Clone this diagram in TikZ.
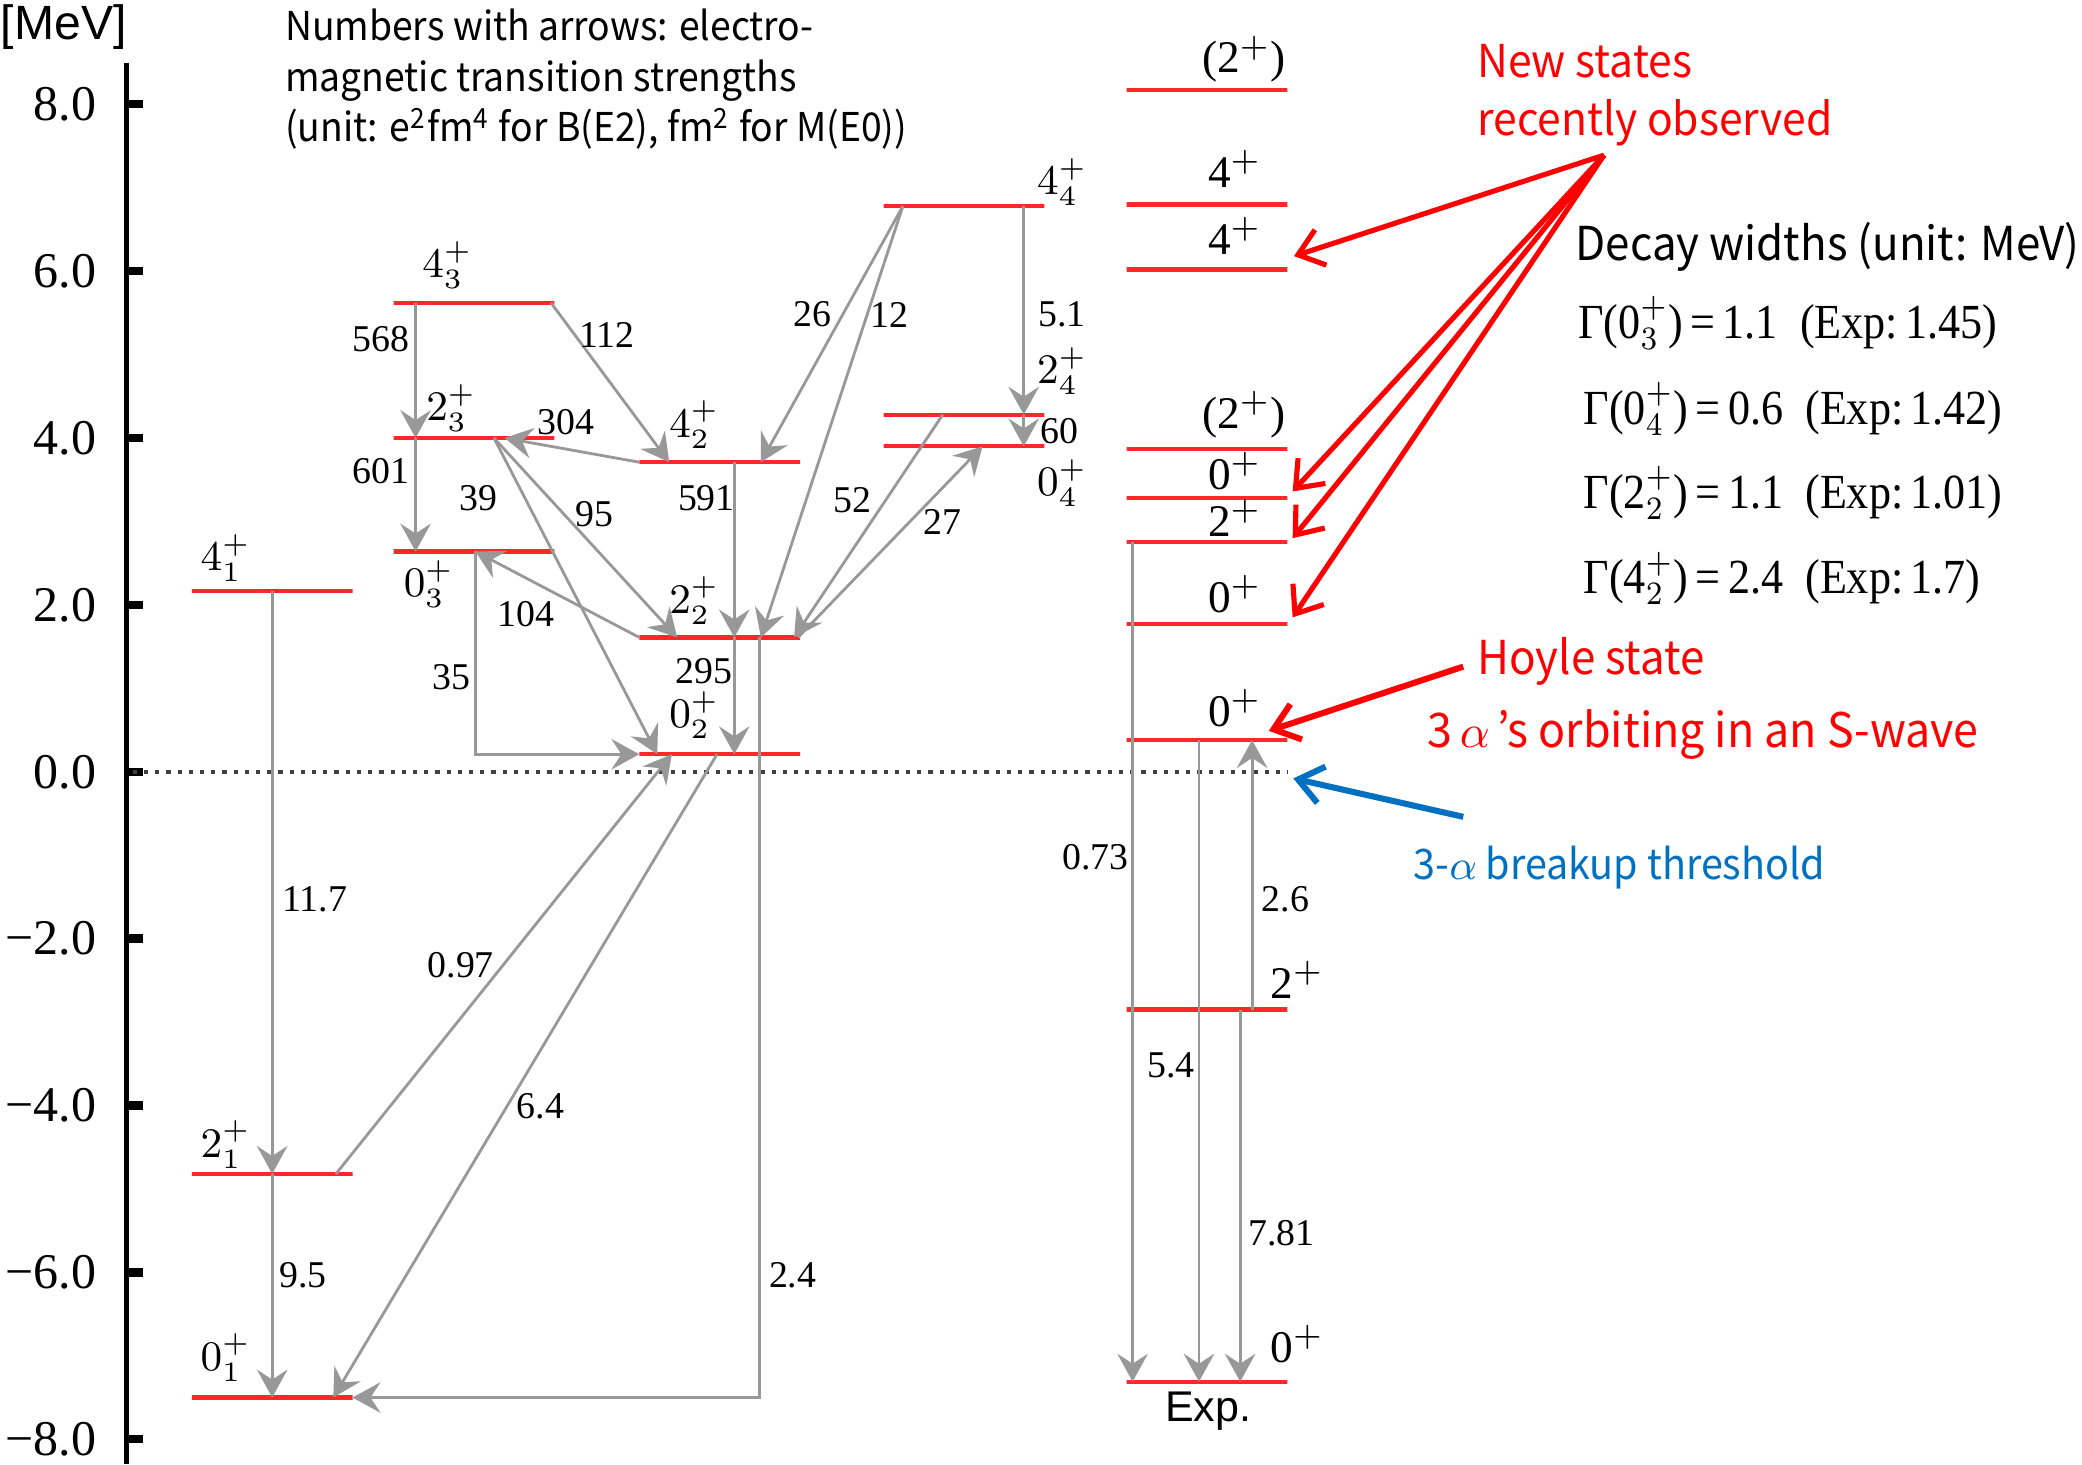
\documentclass[tikz,border=0pt]{standalone}
\usepackage{fontspec}
\setmainfont{Liberation Serif}
\newfontfamily\gothic[FakeStretch=0.94]{Noto Sans CJK JP}
\newfontfamily\arialfont{Liberation Sans}
\usetikzlibrary{arrows.meta,calc}

\definecolor{levelred}{RGB}{255,40,40}
\definecolor{transgray}{RGB}{152,152,152}
\definecolor{notered}{RGB}{255,0,0}
\definecolor{noteblue}{RGB}{0,112,192}

\begin{document}
\begin{tikzpicture}[x=0.01cm, y=0.628cm,
  lvl/.style={draw=levelred, line width=0.9pt, minimum width=1.21cm, minimum height=0pt, inner sep=0pt, outer sep=0pt},
  trans/.style={draw=transgray, line width=0.6pt, -{Stealth[length=2.1mm, width=2.3mm, inset=0.75mm]}},
  num/.style={font=\fontsize{8.1}{9}\selectfont, inner sep=0pt},
  jp/.style={font=\fontsize{9}{10}\selectfont, inner sep=0pt},
  jpexp/.style={font=\fontsize{9.7}{11}\selectfont, inner sep=0pt},
  note/.style={font=\gothic\fontsize{8.5}{10.8}\selectfont, inner sep=0pt, anchor=west, align=left},
  gammaline/.style={font=\fontsize{10.5}{12}\selectfont, inner sep=0pt, anchor=west},
  notearrow/.style={draw=notered, line width=1.1pt, -{Straight Barb[length=1.8mm, width=2.8mm]}},
  threshold/.style={draw=black!75, line width=0.9pt, dash pattern=on 0.9pt off 1.5pt}
]
\useasboundingbox (0,-8.30) rectangle (1568,9.25);

% energy axis
\node[font=\arialfont\fontsize{10.3}{12}\selectfont, inner sep=0pt] (unit) at (48,8.93) {[MeV]};
\draw[line width=1.1pt] (95,8.49) -- (95,-8.30);
\foreach \e/\t in {8/8.0, 6/6.0, 4/4.0, 2/2.0, 0/0.0, -2/−2.0, -4/−4.0, -6/−6.0, -8/−8.0} {
  \draw[line width=1.8pt] (95,\e) -- (108,\e);
  \node[anchor=east, inner sep=0pt, font=\fontsize{10.7}{12}\selectfont] (tick\e) at (73,\e) {\t};
}
\coordinate (thr) at (970,0);
\draw[threshold] (100,0) -- (thr);

% theory levels
\node[lvl] (l41) at (205,2.17) {};
\node[lvl] (l21) at (205,-4.82) {};
\node[lvl] (l01) at (205,-7.50) {};
\node[lvl] (l43) at (357,5.62) {};
\node[lvl] (l23) at (357,4.00) {};
\node[lvl] (l03) at (357,2.64) {};
\node[lvl] (l42) at (542,3.71) {};
\node[lvl] (l22) at (542,1.61) {};
\node[lvl] (l02) at (542,0.21) {};
\node[lvl] (l44) at (726,6.78) {};
\node[lvl] (l24) at (726,4.28) {};
\node[lvl] (l04) at (726,3.90) {};

\node[jp] (j41) at (170,2.56) {$4^{+}_{1}$};
\node[jp] (j21) at (170,-4.47) {$2^{+}_{1}$};
\node[jp] (j01) at (170,-7.02) {$0^{+}_{1}$};
\node[jp] (j43) at (337,6.07) {$4^{+}_{3}$};
\node[jp] (j23) at (340,4.36) {$2^{+}_{3}$};
\node[jp] (j03) at (323,2.25) {$0^{+}_{3}$};
\node[jp] (j42) at (523,4.16) {$4^{+}_{2}$};
\node[jp] (j22) at (523,2.05) {$2^{+}_{2}$};
\node[jp] (j02) at (523,0.68) {$0^{+}_{2}$};
\node[jp] (j44) at (800,7.07) {$4^{+}_{4}$};
\node[jp] (j24) at (800,4.80) {$2^{+}_{4}$};
\node[jp] (j04) at (800,3.46) {$0^{+}_{4}$};

% experimental levels
\node[lvl] (e0g) at (909,-7.31) {};
\node[lvl] (e2) at (909,-2.85) {};
\node[lvl] (eH) at (909,0.38) {};
\node[lvl] (e03) at (909,1.77) {};
\node[lvl] (e22) at (909,2.75) {};
\node[lvl] (e04) at (909,3.28) {};
\node[lvl] (e2b) at (909,3.87) {};
\node[lvl] (e4a) at (909,6.02) {};
\node[lvl] (e4b) at (909,6.80) {};
\node[lvl] (e2c) at (909,8.17) {};

\node[jpexp] (x2c) at (937,8.54) {(2$^{+}$)};
\node[jpexp] (x4b) at (930,7.23) {4$^{+}$};
\node[jpexp] (x4a) at (930,6.42) {4$^{+}$};
\node[jpexp] (x2b) at (937,4.28) {(2$^{+}$)};
\node[jpexp] (x04) at (930,3.60) {0$^{+}$};
\node[jpexp] (x22) at (930,3.04) {2$^{+}$};
\node[jpexp] (x03) at (930,2.13) {0$^{+}$};
\node[jpexp] (xH) at (930,0.76) {0$^{+}$};
\node[jpexp] (x2) at (977,-2.50) {2$^{+}$};
\node[jpexp] (x0g) at (977,-6.86) {0$^{+}$};
\node[font=\arialfont\fontsize{9.2}{11}\selectfont, inner sep=0pt] (exp) at (910,-7.66) {Exp.};

% transitions (theory)
\draw[trans] (205,0 |- l41) -- (205,0 |- l21);
\draw[trans] (205,0 |- l21) -- (205,0 |- l01);
\draw[trans] (253,0 |- l21) -- (506,0 |- l02);
\draw[trans] (540,0 |- l02) -- (251,0 |- l01);
\draw[trans] (572,0 |- l22) |- (l01.east);
\draw[trans] (313,0 |- l43) -- (313,0 |- l23);
\draw[trans] (313,0 |- l23) -- (313,0 |- l03);
\draw[trans] (415,0 |- l43) -- (504,0 |- l42);
\draw[trans] (l42.west) -- (380,0 |- l23);
\draw[trans] (372,0 |- l23) -- (495,0 |- l02);
\draw[trans] (372,0 |- l23) -- (510,0 |- l22);
\draw[trans] (l22.west) -- (358,0 |- l03);
\draw[trans] (358,0 |- l03) |- (l02.west);
\draw[trans] (553,0 |- l42) -- (553,0 |- l22);
\draw[trans] (553,0 |- l22) -- (553,0 |- l02);
\draw[trans] (680,0 |- l44) -- (573,0 |- l42);
\draw[trans] (680,0 |- l44) -- (573,0 |- l22);
\draw[trans] (771,0 |- l44) -- (771,0 |- l24);
\draw[trans] (771,0 |- l24) -- (771,0 |- l04);
\draw[trans] (710,0 |- l24) -- (598,0 |- l22);
\draw[trans] (601,0 |- l22) -- (740,0 |- l04);

% transitions (experiment)
\draw[trans] (853,0 |- e22) -- (853,0 |- e0g);
\draw[trans] (903,0 |- eH) -- (903,0 |- e0g);
\draw[trans] (934,0 |- e2) -- (934,0 |- e0g);
\draw[trans] (943,0 |- e2) -- (943,0 |- eH);

% strengths
\node[num] (n117) at (237,-1.53) {11.7};
\node[num] (n95a) at (228,-6.04) {9.5};
\node[num] (n097) at (347,-2.32) {0.97};
\node[num] (n64) at (407,-4.01) {6.4};
\node[num] (n24) at (597,-6.04) {2.4};
\node[num] (n568) at (287,5.19) {568};
\node[num] (n601) at (287,3.60) {601};
\node[num] (n112) at (457,5.24) {112};
\node[num] (n304) at (426,4.19) {304};
\node[num] (n39) at (360,3.28) {39};
\node[num] (n95) at (448,3.09) {95};
\node[num] (n104) at (396,1.89) {104};
\node[num] (n35) at (340,1.13) {35};
\node[num] (n591) at (532,3.28) {591};
\node[num] (n295) at (530,1.21) {295};
\node[num] (n26) at (612,5.48) {26};
\node[num] (n12) at (670,5.48) {12};
\node[num] (n51) at (800,5.48) {5.1};
\node[num] (n60) at (798,4.08) {60};
\node[num] (n52) at (642,3.25) {52};
\node[num] (n27) at (710,2.99) {27};
\node[num] (n073) at (825,-1.02) {0.73};
\node[num] (n54) at (882,-3.52) {5.4};
\node[num] (n26e) at (968,-1.53) {2.6};
\node[num] (n781) at (965,-5.53) {7.81};

% notes
\node[note] (legend) at (214,8.30)
  {Numbers with arrows: electro-\\magnetic transition strengths\\(unit: e\textsuperscript{2}fm\textsuperscript{4} for B(E2), fm\textsuperscript{2} for M(E0))};
\node[note, text=notered, font=\gothic\fontsize{9.7}{12.5}\selectfont] (newstates) at (1112,8.11) {New states\\recently observed};
\node[note, font=\gothic\fontsize{10}{12}\selectfont] (decay) at (1186,6.29) {Decay widths (unit: MeV)};
\node[gammaline] (g03) at (1188,5.38) {\scalebox{0.9}[1]{Γ(0$^{+}_{3}$)\,=\,1.1~~(Exp:\,1.45)}};
\node[gammaline] (g04) at (1192,4.35) {\scalebox{0.9}[1]{Γ(0$^{+}_{4}$)\,=\,0.6~~(Exp:\,1.42)}};
\node[gammaline] (g22) at (1192,3.34) {\scalebox{0.9}[1]{Γ(2$^{+}_{2}$)\,=\,1.1~~(Exp:\,1.01)}};
\node[gammaline] (g42) at (1192,2.32) {\scalebox{0.9}[1]{Γ(4$^{+}_{2}$)\,=\,2.4~~(Exp:\,1.7)}};
\node[note, text=notered, font=\gothic\fontsize{10}{12}\selectfont] (hoyle) at (1112,1.32) {Hoyle state};
\node[note, text=notered, font=\gothic\fontsize{10.2}{12}\selectfont] (swave) at (1074,0.45) {3\,$\alpha$\,’s orbiting in an S-wave};
\node[note, text=noteblue, font=\gothic\fontsize{9}{12}\selectfont] (breakup) at (1064,-1.15) {3-$\alpha$ breakup threshold};

\coordinate (newsrc) at (1208,7.39);
\coordinate (hoylesrc) at (1102,1.26);
\coordinate (thrsrc) at (1102,-0.54);
\draw[notearrow] (newsrc) -- ([shift={(5,0.16)}]e4a.east);
\draw[notearrow] (newsrc) -- ([shift={(4,0.08)}]e04.east);
\draw[notearrow] (newsrc) -- ([shift={(4,0.05)}]e22.east);
\draw[notearrow] (newsrc) -- ([shift={(4,0.08)}]e03.east);
\draw[notearrow, line width=1.3pt] (hoylesrc) -- ([shift={(-14,0.11)}]eH.east);
\draw[notearrow, draw=noteblue, line width=1.3pt] (thrsrc) -- ([shift={(4,-0.08)}]thr);
\end{tikzpicture}
\end{document}
